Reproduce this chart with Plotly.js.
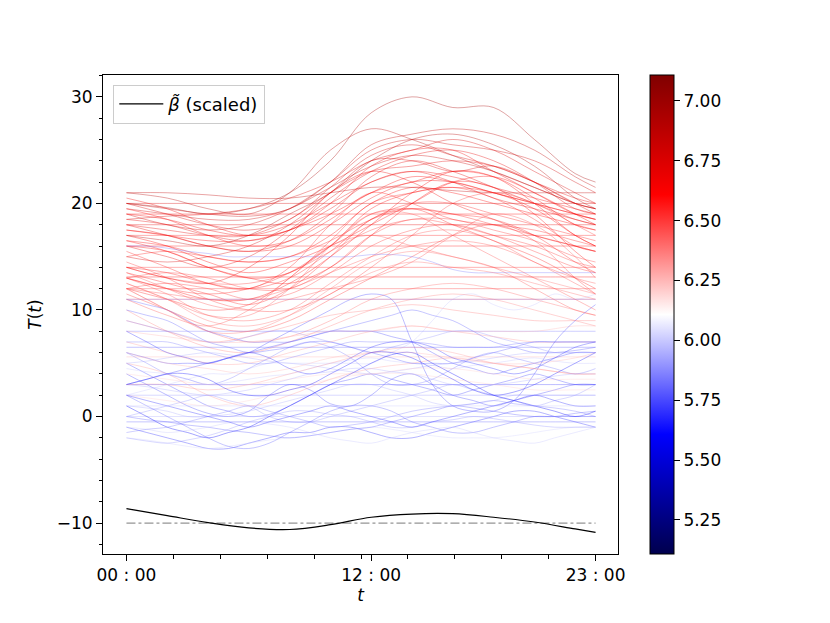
<!DOCTYPE html>
<html>
<head>
<meta charset="utf-8">
<script src="https://cdn.plot.ly/plotly-3.0.1.min.js"></script>
<style>html,body{margin:0;padding:0;background:#fff;}#chart{width:830px;height:623px;}</style>
</head>
<body>
<div id="chart"></div>
<script>
// sampling grids (hours of day)
const hours = [0,2,4,6,8,10,12,14,16,18,20,22,23];
const hoursFine = [0,1,2,3,4,5,6,7,8,9,10,11,12,13,14,15,16,17,18,19,20,21,22,23];
const xTickVals = [0,12,23];
const xTickText = ["00 : 00","12 : 00","23 : 00"];
const xMinorVals = [0,2.3,4.6,6.9,9.2,11.5,13.8,16.1,18.4,20.7,23];
const yTickVals = [-10,0,10,20,30];
const yTickText = ['\u221210','0','10','20','30'];
const cbTickVals = [5.25,5.5,5.75,6.0,6.25,6.5,6.75,7.0];

// beta (scaled) curve and its reference level
const betaScaled = [-8.65,-9.3,-9.95,-10.45,-10.6,-10.15,-9.45,-9.15,-9.12,-9.45,-9.9,-10.55,-10.87];
const refLevel = -10;

// warm curves (coarse grid)
const warmValues = [
  6.95,6.90,6.85,6.80,6.75,6.90,6.70,6.75,6.65,6.60,
  6.70,6.55,6.60,6.50,6.60,6.55,6.65,6.50,6.60,6.45,
  6.55,6.70,6.50,6.60,6.45,6.55,6.65,6.50,6.60,6.75,
  6.45,6.55,6.40,6.60,6.70,6.50,6.45,6.80,6.55,6.65,
  6.40,6.45,6.85
];
const warmSeries = [
  [20,19.6,19,19.5,21,24,28.5,30,29,29,26,22.8,22],
  [21,20.5,19.5,19,21,25,27,26,24.5,23,21.5,20,19.5],
  [20,19.5,19,18.8,19.5,22,25.5,26.5,27,26.5,25,22.5,21.5],
  [19,18,17.5,18,19.5,22,25,26,25.5,25,24,22,21],
  [18.5,18.8,19,19.5,20.5,22,24,25,26,25,23,21,20],
  [17,16.5,16,17,19,21,24,26,26.5,25.5,23.5,20.5,19.5],
  [16,15,14,15,17.5,20.5,23,24.5,25,24,22,19.5,19],
  [15,14.5,15,16,18,21,24,24,23,23.5,22,20,19.5],
  [14,13,12.5,14,17,21,23,22,20,18.5,17,16,15.5],
  [13,12,11,11,12.5,15,18,21,23,22.5,20,17,16],
  [18,17,16,15.5,16.5,19,22.5,24,23,21.5,20,18.5,18],
  [12,11,10,10.5,13,16.5,20,21,21.5,20.5,18.5,16,15.5],
  [19.5,18.5,17,16,16.5,18.5,21,22,23,22.5,20.5,18,17.5],
  [14.5,13,11,10,10,11.5,14,17,20,21,20,18,17],
  [16.5,16,15,14.5,15,17,20,21.5,21,20,19,18,17.5],
  [13.5,12.5,11.5,10.5,12,15,18.5,19.5,18,16.5,15,13,12],
  [20.5,19.5,18,17,17.5,20,23.5,25,25,23,21,19,18.5],
  [11.5,10,8.5,8,9,11,13,15,17,18,16.5,13,11.5],
  [17.5,17,16.5,16.5,17.5,19,21,22.5,22,21,20,19,18.5],
  [12.5,11,9.5,9.5,12,16,19,19,17,15,13,11,10],
  [15.5,14,12.5,12,14,18,21,20,18.5,18,17.5,16.5,16],
  [18,17.5,17,17,18.5,21,23,23.5,24,23.5,22,20.5,20],
  [13,13.5,13,12,12,14,17,18.5,18,17,16,14.5,14],
  [16,15.5,14,13,13.5,16,19.5,21,21.5,21,19.5,17,16],
  [11,9.5,8.5,10,13,16,17,16,15,14,12,10,9.5],
  [14,13.5,12.5,12,13,15.5,18.5,20,20,19,18,17,16.5],
  [19,18.5,17.5,17,18,20,22,23,22.5,21.5,20.5,19.5,19],
  [12,12.5,12,11,11.5,13.5,16,17.5,18,17,15.5,14,13.5],
  [17,16,14.5,13.5,14.5,16,18,20,22,22.5,21,19,18],
  [20,19,18,17.5,18.5,21.5,24.5,25.5,24.5,23.5,22,20,19],
  [13.5,12,10.5,10,11,12,13,14.5,17,19,18,15,13],
  [15,15.5,15,14.5,15,16.5,18.5,19.5,19,18,17,16,15.5],
  [12.5,11,9,8.5,9.5,11.5,13.5,14.5,14,13.5,12.5,11.5,11],
  [16.5,15.5,14,13,12.5,14,17,20,22,21.5,19,15.5,14],
  [18.5,18,17,16.5,17.5,19.5,22,23,22,20.5,19.5,18.5,18],
  [14,13,12.5,12.5,13.5,15.5,17.5,18.5,18.5,17.5,16.5,15,14.5],
  [12,11.5,11,11,12,13.5,15,16,16.5,16,14.5,12.5,11.5],
  [19.5,19,18.5,18.5,19.5,21.5,23.5,24.5,24,23,21.5,20,19.5],
  [13,12,11.5,12,13.5,16,19,19.5,19,18.5,17,14.5,13.5],
  [17.5,17,16,15.5,16,18,20.5,22,22,21,20,19,18.5],
  [12,10,8,8,9.5,12,14.5,15.5,15,14,13,12,11.5],
  [13,11.5,9.5,9,10,12.5,15,17,17.5,16.5,14.5,13,12.5],
  [21,21,20.8,20.5,20.5,21,21.5,21.5,21.2,21,21,21,21]
];

// constant-level curves (coarse grid)
const flatValues = [6.60,6.55,6.58,6.52,6.62,6.50,6.45,6.70,6.75,6.25,
                    5.85,5.80,5.75,5.90,6.00,5.95,5.80,5.90];
const flatSeries = [
  [19,19,19,19,19,19,19,19,19,19,19,19,19],
  [17,17,17,17,17,17,17,17,17,17,17,17,17],
  [16,16,16,16,16,16,16,16,16,16,16,16,16],
  [14,14,14,14,14,14,14,14,14,14,14,14,14],
  [13.1,13.1,13.1,13.1,13.1,13.1,13.1,13.1,13.1,13.1,13.1,13.1,13.1],
  [12,12,12,12,12,12,12,12,12,12,12,12,12],
  [11,11,11,11,11,11,11,11,11,11,11,11,11],
  [18,18,18,18,18,18,18,18,18,18,18,18,18],
  [20,20,20,20,20,20,20,20,20,20,20,20,20],
  [5.6,5.6,5.6,5.6,5.6,5.6,5.6,5.6,5.6,5.6,5.6,5.6,5.6],
  [8,8,8,8,8,8,8,8,8,8,8,8,8],
  [6.5,6.5,6.5,6.5,6.5,6.5,6.5,6.5,6.5,6.5,6.5,6.5,6.5],
  [3,3,3,3,3,3,3,3,3,3,3,3,3],
  [2,2,2,2,2,2,2,2,2,2,2,2,2],
  [1,1,1,1,1,1,1,1,1,1,1,1,1],
  [0,0,0,0,0,0,0,0,0,0,0,0,0],
  [-0.5,-0.5,-0.5,-0.5,-0.5,-0.5,-0.5,-0.5,-0.5,-0.5,-0.5,-0.5,-0.5],
  [11,11,11,11,11,11,11,11,11,11,11,11,11]
];

// pale warm curves in the middle band (coarse grid)
const paleValues = [6.30,6.25,6.35,6.30,6.20,6.35,6.25,6.30,6.40,6.20];
const paleSeries = [
  [7,6,5,5,6,7,8,8.5,8,7.5,7,7,7],
  [6,5,4.5,4,4.5,5.5,6,6,5.5,5,5,5.5,6],
  [9,8,7,7.5,8.5,9.5,10,10.5,10,9.5,9,9,9],
  [5,4,2,1,2,3.5,4.5,5,5.5,5,4.5,4,4],
  [4,3.5,3,3,3.5,4,4,4.5,4.5,4,3.5,3.5,3.5],
  [10,8,6.5,6,7,8.5,10,11,11.5,11,10,9,8.5],
  [8,7.5,7,7,7.5,8,8,8.5,8,8,8,8.5,8.5],
  [3,3,2.5,3,4,5,6,6.5,6,5,4.5,4,4],
  [12,10,8,7,7.5,9,11,12,12.5,12,11,10,9.5],
  [2,1.5,1,1.5,2.5,3.5,4,4,3.5,3,2.5,2.5,2.5]
];

// cold curves (hourly grid)
const coldValues = [5.70,5.80,5.90,5.75,5.85,5.70,5.95,5.80,5.65,5.90,
                    6.00,5.75,5.85,5.70,5.90,5.80,5.95,6.00,5.60,5.85,
                    5.75,5.95,6.02,5.80,5.75,6.00,5.85];
const coldSeries = [
  [-1,-1.5,-2,-2.5,-3,-3,-2.5,-2,-1.5,-1.5,-1,-1,-1.5,-2,-2,-1.5,-1,-0.5,0,0.5,0.5,0,-0.5,-1],
  [2,1,0,-1,-2,-2.8,-3,-2.5,-1.5,-0.5,0.5,1,1,0.5,-0.5,-1,-1.5,-1.5,-1,-0.5,0,0,0.3,0.5],
  [-2,-2.3,-2.5,-2.2,-1.8,-1.2,-0.5,0,0.5,0.5,0.2,0,-0.5,-1,-1,-0.5,-0.3,0,-0.2,-0.5,-0.8,-1,-1,-1],
  [4,3,2,1,0.3,0,0.5,2,3,2.5,1.2,1,2,3.5,4,3,2,1.5,1,1.5,2,2.5,3,3],
  [6,5,4,3.5,3,3.5,4.5,5.5,6.5,7,6.5,5.5,4,3,3,3.5,4.5,5.5,6,5.5,5,4.5,4,4.5],
  [8,7,6,5.5,5,5.5,6,5.5,4.5,4,4.5,5.5,6.5,7,7,6.5,5.5,5,4.5,4,4.5,5.5,6.5,7],
  [1,0.8,0.5,0,0,0.2,0.5,1,1.5,2,2.5,3,3,2.5,2,1.3,1,1.2,1.5,2,2,2,2,2],
  [0,-0.3,-0.5,-0.8,-1,-1.3,-1.5,-1.8,-2,-1.8,-1.5,-1.2,-1,-0.5,0,0.5,1,0.8,0.5,0.2,0,0,0,0],
  [3,3.5,4,4,3.5,2.5,2,2,2.5,3,4,5,6,6,5.5,4.5,3.5,2.5,2,2.3,3,4,5,6],
  [9,8.5,8,7.5,7,7,7.5,8,8,7.5,7,6.5,6,6.5,7,7.5,8,8,7.5,7,6.5,6,6,6],
  [-1,-1.2,-1.5,-1.3,-1,-0.6,-0.5,-0.7,-1,-1.5,-2,-2.3,-2.5,-2,-1.5,-1.2,-1,-1.5,-2,-2.3,-2.5,-2,-1.5,-1],
  [5,4,3,2,1,0.5,0,0.2,1,2,3,3.5,4,3.5,3,2.5,2,2.5,3,3.5,4,3.5,3,3],
  [7,7,7,6.5,6,5.5,5,5,5.5,6,6.5,7,7,7,7,6.8,6.5,6.5,6.5,6.8,7,7,7,7],
  [2,1.5,1,0.5,0,-0.5,-1,-0.5,0,0.5,1,0.5,0,-0.5,-1,-0.5,0,0.5,1,1.5,2,1.5,1,1],
  [0,0.5,1,1.5,2,1.5,1,0,-0.5,-0.5,0,0.5,1,1.5,2,2.5,3,2.5,2,1.5,1,1.5,2,3],
  [10,9.5,9,8,7,6.5,6,6.2,6.5,7,7,6.5,6,5.5,5,5,5,5.5,6,6.5,7,7,7,7],
  [3,2.8,2.5,2.2,2,2.2,2.5,3,3.5,4,4.2,4.5,4.5,4.2,4,3.5,3,3,3,3.2,3.5,3.8,4,4],
  [4.5,4.2,4,3.5,3,3.2,3.5,3.8,4,4.5,5,5.3,5.5,5.2,5,4.8,4.5,4.8,5,5.3,5.5,5.2,5,5],
  [1,0,-1,-1.5,-2,-1.5,-1,0,1,2,3,4,5,5.8,6,5,4,3,2,1.5,1,0.5,0,0.5],
  [-1.5,-1.2,-1,-0.5,0,0.5,1,0.5,0,-0.5,-1,-0.8,-0.5,0,0.5,0.8,1,1.2,1.5,1.2,1,0.8,0.5,0],
  [6,5.5,5,5,5,5.5,6,6.5,7,7.5,8,8,8,7.5,7,6,5,4.5,4,4.5,5,5.5,6,6],
  [5,5.2,5.5,5.8,6,5.8,5.5,5.2,5,4.8,4.5,4.2,4,4.2,4.5,4.8,5,5.2,5.5,5.8,6,6,6,6],
  [-2,-2.2,-2.5,-2.8,-3,-2.8,-2.5,-2.2,-2,-1.8,-1.5,-1.2,-1,-1.2,-1.5,-1.8,-2,-2,-2,-1.8,-1.5,-1.2,-1,-1],
  [11,10.5,10,9,8,7.5,7,7,7,7.5,8,8.5,9,9.5,10,9.5,9,8,7,6.5,6,6,6.2,6.5],
  [3,3.5,4,4.5,5,5.5,6,7,8,9,10,11,11.5,11,7,3,1,0.5,0.5,1.5,4,7,9,10.5],
  [2,2.5,3,3.5,4,4,4.5,5,5,5,5,5,5,6,7,9,11,11.5,10.5,10,10.5,11.5,11,11.5],
  [16,16,15.8,15.5,15.3,15,15,15,15,15,15,15,15.2,15.2,15,14.5,13.8,13.5,13.5,13.5,13.5,13.5,13.5,13.5]
];

const cMin = 5.108, cMax = 7.108;
const seismic = [[0,[0,0,77]],[0.25,[0,0,255]],[0.5,[255,255,255]],[0.75,[255,0,0]],[1,[128,0,0]]];
function colorOf(v){
  let t = (v - cMin)/(cMax - cMin); t = Math.max(0, Math.min(1, t));
  for (let i=0;i<seismic.length-1;i++){
    const a = seismic[i], b = seismic[i+1];
    if (t <= b[0]){
      const f = (t - a[0])/(b[0]-a[0]);
      const c = a[1].map((ca,k)=>Math.round(ca + f*(b[1][k]-ca)));
      return 'rgba('+c[0]+','+c[1]+','+c[2]+',0.45)';
    }
  }
  return 'rgba(128,0,0,0.45)';
}

const groups = [
  {x: hours, vals: warmValues, ser: warmSeries},
  {x: hours, vals: flatValues, ser: flatSeries},
  {x: hours, vals: paleValues, ser: paleSeries},
  {x: hoursFine, vals: coldValues, ser: coldSeries}
];
const items = [];
groups.forEach(g => g.ser.forEach((s, i) => items.push({x: g.x, y: s, v: g.vals[i]})));
// interleave drawing order so warm and cold curves overlap naturally
const order = items.map((_, i) => i).sort((a, b) => ((a*37)%101) - ((b*37)%101));
const traces = order.map(i => ({
  x: items[i].x, y: items[i].y, type: 'scatter', mode: 'lines',
  line: {color: colorOf(items[i].v), width: 0.8, shape: 'spline', smoothing: 1},
  showlegend: false, hoverinfo: 'skip'
}));
traces.push({
  x: [hours[0], hours[hours.length-1]], y: [refLevel, refLevel], type: 'scatter', mode: 'lines',
  line: {color: 'rgba(70,70,70,0.9)', width: 0.8, dash: 'dashdot'}, showlegend: false, hoverinfo: 'skip'
});
traces.push({
  x: hours, y: betaScaled, type: 'scatter', mode: 'lines',
  line: {color: 'black', width: 1.2, shape: 'spline'}, name: '<i>β̃</i> (scaled)'
});
const allValues = items.map(it => it.v);
// colour bar carrier
traces.push({
  x: allValues.map(() => null), y: allValues.map(() => null), type: 'scatter', mode: 'markers',
  marker: {color: allValues, cmin: cMin, cmax: cMax, size: 0.1, opacity: 0,
    colorscale: seismic.map(s => [s[0], 'rgb('+s[1].join(',')+')']),
    showscale: true,
    colorbar: {x: 1.062, xanchor: 'left', y: 0.5, yanchor: 'middle', len: 1, lenmode: 'fraction',
      thickness: 24, thicknessmode: 'pixels', outlinewidth: 1, outlinecolor: 'black',
      tickmode: 'array', tickvals: cbTickVals, ticktext: cbTickVals.map(v => v.toFixed(2)),
      ticks: 'outside', ticklen: 6, tickcolor: 'black', tickfont: {size: 17, color: 'black'}, xpad: 0, ypad: 0}
  },
  showlegend: false, hoverinfo: 'skip'
});

const layout = {
  width: 830, height: 623,
  margin: {l: 103, r: 212, t: 75, b: 69},
  paper_bgcolor: 'white', plot_bgcolor: 'white',
  font: {family: 'DejaVu Sans, sans-serif', size: 17, color: 'black'},
  showlegend: true,
  legend: {x: 0.02, y: 0.98, xanchor: 'left', yanchor: 'top', bgcolor: 'rgba(255,255,255,0.85)',
    bordercolor: '#cccccc', borderwidth: 1, font: {size: 18, color: 'black'}, itemwidth: 44},
  xaxis: {
    range: [-1.15, 24.1], showgrid: false, zeroline: false,
    showline: true, linecolor: 'black', linewidth: 1, mirror: true,
    tickmode: 'array', tickvals: xTickVals, ticktext: xTickText,
    ticks: 'outside', ticklen: 6, tickcolor: 'black', tickfont: {size: 17},
    minor: {tickmode: 'array', tickvals: xMinorVals, ticks: 'outside', ticklen: 3.5, tickcolor: 'black'},
    title: {text: '<i>t</i>', font: {size: 17}, standoff: 4}
  },
  yaxis: {
    range: [-12.9, 32.05], showgrid: false, zeroline: false,
    showline: true, linecolor: 'black', linewidth: 1, mirror: true,
    tickmode: 'array', tickvals: yTickVals, ticktext: yTickText,
    ticks: 'outside', ticklen: 6, tickcolor: 'black', tickfont: {size: 17},
    minor: {dtick: 2, tick0: 0, ticks: 'outside', ticklen: 3.5, tickcolor: 'black'},
    title: {text: '<i>T</i>(<i>t</i>)', font: {size: 17}, standoff: 10}
  }
};
Plotly.newPlot('chart', traces, layout, {displayModeBar: false, staticPlot: true});
</script>
</body>
</html>
